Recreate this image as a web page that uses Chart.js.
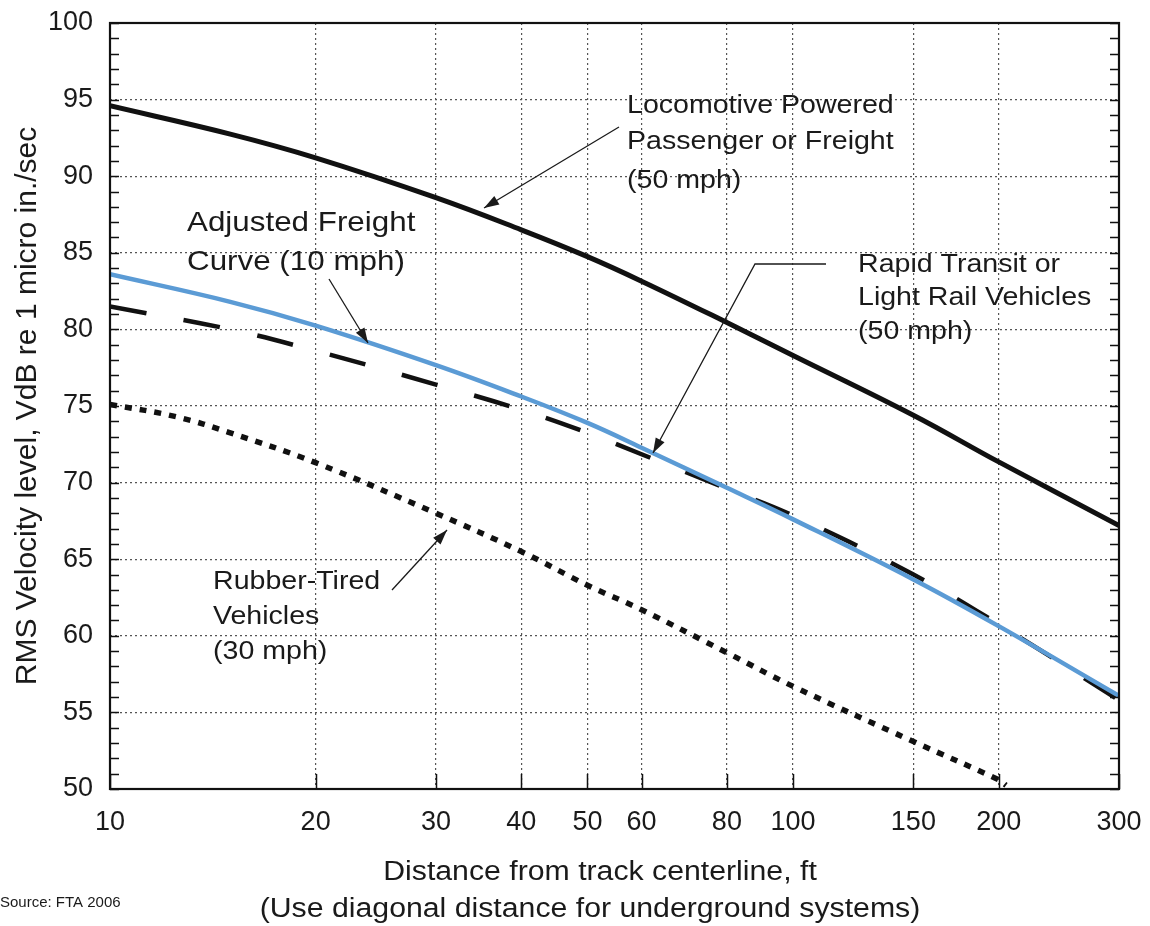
<!DOCTYPE html>
<html>
<head>
<meta charset="utf-8">
<script src="https://cdn.jsdelivr.net/npm/chart.js@4.4.0/dist/chart.umd.min.js"></script>
<style>
    html, body { margin: 0; padding: 0; background: #fff; }
    #wrap { width: 1150px; height: 926px; position: relative; }
</style>
</head>
<body>
<div id="wrap"><canvas id="vib-chart"></canvas></div>
<script>
// tick values on the log distance axis
const distanceTicks = [10, 20, 30, 40, 50, 60, 80, 100, 150, 200, 300];

// curves (ft, VdB)
const distance = [10, 15, 20, 30, 40, 50, 60, 80, 100, 150, 200, 300];
const locomotive = [94.6, 92.75, 91.2, 88.6, 86.5, 84.75, 83.15, 80.45, 78.3, 74.4, 71.35, 67.2];
const adjustedFreight = [83.6, 81.8, 80.25, 77.67, 75.62, 73.9, 72.28, 69.66, 67.6, 63.68, 60.63, 56.08];
const rapidTransit = [81.5, 80.0, 78.6, 76.4, 74.75, 73.25, 71.85, 69.6, 67.85, 64.0, 60.75, 55.8];
const rubberDistance = [10, 12.5, 15, 20, 30, 40, 50, 60, 80, 100, 150, 200, 205];
const rubberTired = [75.1, 74.3, 73.25, 71.3, 68.0, 65.5, 63.3, 61.7, 58.9, 56.7, 53.1, 50.6, 50.25];

const FONT = "'Liberation Sans', Arial, sans-serif";
const INK = '#1a1a1a';

function toPoints(xs, ys) {
    return xs.map((x, i) => ({ x: x, y: ys[i] }));
}

function drawText(ctx, text, x, y, size) {
    ctx.save();
    ctx.translate(x, y);
    ctx.scale(1.12, 1);
    ctx.font = size + 'px ' + FONT;
    ctx.fillStyle = INK;
    ctx.textBaseline = 'middle';
    ctx.fillText(text, 0, 0);
    ctx.restore();
}

function drawArrow(ctx, pts) {
    ctx.save();
    ctx.strokeStyle = INK;
    ctx.fillStyle = INK;
    ctx.lineWidth = 1.3;
    ctx.beginPath();
    ctx.moveTo(pts[0][0], pts[0][1]);
    for (let i = 1; i < pts.length; i++) ctx.lineTo(pts[i][0], pts[i][1]);
    ctx.stroke();
    const [x1, y1] = pts[pts.length - 2];
    const [x2, y2] = pts[pts.length - 1];
    const a = Math.atan2(y2 - y1, x2 - x1);
    ctx.beginPath();
    ctx.moveTo(x2, y2);
    ctx.lineTo(x2 - 15 * Math.cos(a) + 5 * Math.sin(a), y2 - 15 * Math.sin(a) - 5 * Math.cos(a));
    ctx.lineTo(x2 - 15 * Math.cos(a) - 5 * Math.sin(a), y2 - 15 * Math.sin(a) + 5 * Math.cos(a));
    ctx.closePath();
    ctx.fill();
    ctx.restore();
}

const framePlugin = {
    id: 'frame',
    afterDatasetsDraw(chart) {
        const ctx = chart.ctx;
        const area = chart.chartArea;
        const yScale = chart.scales.y;
        const xScale = chart.scales.x;
        ctx.save();
        ctx.strokeStyle = '#111';
        ctx.lineWidth = 1.5;
        ctx.beginPath();
        yScale.ticks.forEach(t => {
            const py = Math.round(yScale.getPixelForValue(t.value)) + 0.5;
            ctx.moveTo(area.left, py); ctx.lineTo(area.left + 9, py);
            ctx.moveTo(area.right, py); ctx.lineTo(area.right - 9, py);
        });
        xScale.ticks.forEach(t => {
            const px = Math.round(xScale.getPixelForValue(t.value)) + 0.5;
            ctx.moveTo(px, area.bottom); ctx.lineTo(px, area.bottom - 15);
        });
        ctx.stroke();
        ctx.lineWidth = 2.2;
        ctx.strokeRect(area.left, area.top, area.right - area.left, area.bottom - area.top);
        ctx.restore();
    },
    afterDraw(chart) {
        const ctx = chart.ctx;

        drawText(ctx, 'Locomotive Powered', 627, 106, 25.5);
        drawText(ctx, 'Passenger or Freight', 627, 142, 25.5);
        drawText(ctx, '(50 mph)', 627, 181, 25.5);
        drawArrow(ctx, [[619, 127], [484, 208]]);

        drawText(ctx, 'Adjusted Freight', 187, 223, 28);
        drawText(ctx, 'Curve (10 mph)', 187, 262, 28);
        drawArrow(ctx, [[329, 279], [368, 343]]);

        drawText(ctx, 'Rapid Transit or', 858, 265, 25.5);
        drawText(ctx, 'Light Rail Vehicles', 858, 298, 25.5);
        drawText(ctx, '(50 mph)', 858, 332, 25.5);
        drawArrow(ctx, [[826, 264], [755, 264], [653, 453]]);

        drawText(ctx, 'Rubber-Tired', 213, 582, 25.5);
        drawText(ctx, 'Vehicles', 213, 617, 25.5);
        drawText(ctx, '(30 mph)', 213, 652, 25.5);
        drawArrow(ctx, [[392, 590], [447, 530]]);

        // x axis caption, two lines
        ctx.save();
        ctx.fillStyle = INK;
        ctx.textAlign = 'center';
        ctx.textBaseline = 'middle';
        ctx.font = '27px ' + FONT;
        ctx.save(); ctx.translate(600, 873); ctx.scale(1.12, 1); ctx.fillText('Distance from track centerline, ft', 0, 0); ctx.restore();
        ctx.save(); ctx.translate(590, 910); ctx.scale(1.12, 1); ctx.fillText('(Use diagonal distance for underground systems)', 0, 0); ctx.restore();
        ctx.textAlign = 'left';
        ctx.font = '15px ' + FONT;
        ctx.fillText('Source: FTA 2006', 0, 903);
        ctx.restore();
    }
};

const ctx = document.getElementById('vib-chart').getContext('2d');
const chart = new Chart(ctx, {
    type: 'line',
    data: {
        datasets: [
            {
                label: 'Adjusted Freight Curve (10 mph)',
                data: toPoints(distance, adjustedFreight),
                borderColor: '#5B9BD5',
                borderWidth: 4.5,
            },
            {
                label: 'Locomotive Powered Passenger or Freight (50 mph)',
                data: toPoints(distance, locomotive),
                borderColor: '#111',
                borderWidth: 5,
            },
            {
                label: 'Rapid Transit or Light Rail Vehicles (50 mph)',
                data: toPoints(distance, rapidTransit),
                borderColor: '#111',
                borderWidth: 4.5,
                borderDash: [37, 38],
            },
            {
                label: 'Rubber-Tired Vehicles (30 mph)',
                data: toPoints(rubberDistance, rubberTired),
                borderColor: '#111',
                borderWidth: 5.5,
                borderDash: [7, 8],
            }
        ]
    },
    options: {
        responsive: true,
        maintainAspectRatio: false,
        animation: false,
        layout: { padding: { left: 0, top: 23, right: 31, bottom: 0 } },
        elements: {
            point: { radius: 0 },
            line: { tension: 0.4, fill: false }
        },
        scales: {
            x: {
                type: 'logarithmic',
                min: 10,
                max: 300,
                afterBuildTicks: function(scale) {
                    scale.ticks = distanceTicks.map(v => ({ value: v }));
                },
                afterFit: function(scale) {
                    scale.height = 137;
                    scale.paddingLeft = 0;
                    scale.paddingRight = 0;
                },
                ticks: {
                    autoSkip: false,
                    maxRotation: 0,
                    padding: 17,
                    color: INK,
                    font: { family: FONT, size: 27 },
                    callback: function(value) {
                        return String(value);
                    }
                },
                grid: {
                    drawTicks: false,
                    color: '#555',
                    lineWidth: 1.2
                },
                border: { display: false, dash: [2, 3] }
            },
            y: {
                min: 50,
                max: 100,
                afterFit: function(scale) {
                    scale.width = 110;
                    scale.paddingTop = 0;
                    scale.paddingBottom = 0;
                },
                ticks: {
                    stepSize: 1,
                    autoSkip: false,
                    padding: 17,
                    color: INK,
                    font: { family: FONT, size: 27 },
                    callback: function(value) {
                        return value % 5 === 0 ? String(value) : '';
                    }
                },
                grid: {
                    drawTicks: false,
                    lineWidth: 1.2,
                    color: function(c) {
                        return c.tick && c.tick.value % 5 === 0 ? '#555' : 'rgba(0,0,0,0)';
                    }
                },
                border: { display: false, dash: [2, 3] },
                title: {
                    display: true,
                    text: 'RMS Velocity level, VdB re 1 micro in./sec',
                    color: INK,
                    font: { family: FONT, size: 30 },
                    padding: { top: 10, bottom: 0 }
                }
            }
        },
        plugins: {
            legend: { display: false },
            tooltip: { enabled: false }
        }
    },
    plugins: [framePlugin]
});
</script>
</body>
</html>
